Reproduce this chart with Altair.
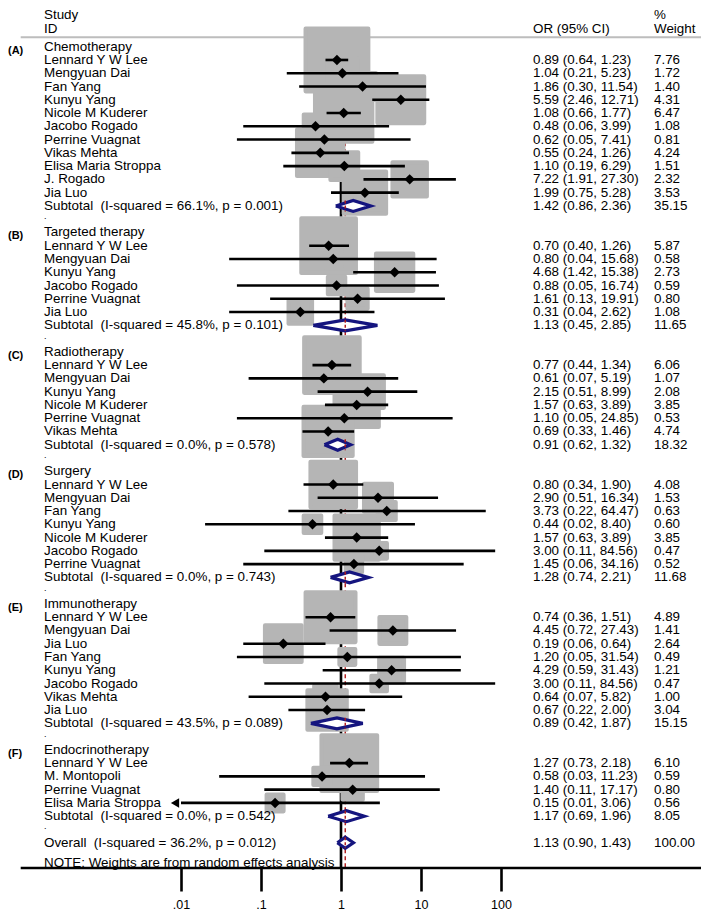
import altair as alt
import pandas as pd

# ---------------- data ----------------
group_names = ["Chemotherapy", "Targeted therapy", "Radiotherapy", "Surgery",
               "Immunotherapy", "Endocrinotherapy"]
group_tags = ["(A)", "(B)", "(C)", "(D)", "(E)", "(F)"]

studies = [
    ["Lennard Y W Lee", "Mengyuan Dai", "Fan Yang", "Kunyu Yang", "Nicole M Kuderer",
     "Jacobo Rogado", "Perrine Vuagnat", "Vikas Mehta", "Elisa Maria Stroppa",
     "J. Rogado", "Jia Luo"],
    ["Lennard Y W Lee", "Mengyuan Dai", "Kunyu Yang", "Jacobo Rogado",
     "Perrine Vuagnat", "Jia Luo"],
    ["Lennard Y W Lee", "Mengyuan Dai", "Kunyu Yang", "Nicole M Kuderer",
     "Perrine Vuagnat", "Vikas Mehta"],
    ["Lennard Y W Lee", "Mengyuan Dai", "Fan Yang", "Kunyu Yang", "Nicole M Kuderer",
     "Jacobo Rogado", "Perrine Vuagnat"],
    ["Lennard Y W Lee", "Mengyuan Dai", "Jia Luo", "Fan Yang", "Kunyu Yang",
     "Jacobo Rogado", "Vikas Mehta", "Jia Luo"],
    ["Lennard Y W Lee", "M. Montopoli", "Perrine Vuagnat", "Elisa Maria Stroppa"],
]
odds_ratio = [
    [0.89, 1.04, 1.86, 5.59, 1.08, 0.48, 0.62, 0.55, 1.10, 7.22, 1.99],
    [0.70, 0.80, 4.68, 0.88, 1.61, 0.31],
    [0.77, 0.61, 2.15, 1.57, 1.10, 0.69],
    [0.80, 2.90, 3.73, 0.44, 1.57, 3.00, 1.45],
    [0.74, 4.45, 0.19, 1.20, 4.29, 3.00, 0.64, 0.67],
    [1.27, 0.58, 1.40, 0.15],
]
ci_low = [
    [0.64, 0.21, 0.30, 2.46, 0.66, 0.06, 0.05, 0.24, 0.19, 1.91, 0.75],
    [0.40, 0.04, 1.42, 0.05, 0.13, 0.04],
    [0.44, 0.07, 0.51, 0.63, 0.05, 0.33],
    [0.34, 0.51, 0.22, 0.02, 0.63, 0.11, 0.06],
    [0.36, 0.72, 0.06, 0.05, 0.59, 0.11, 0.07, 0.22],
    [0.73, 0.03, 0.11, 0.01],
]
ci_high = [
    [1.23, 5.23, 11.54, 12.71, 1.77, 3.99, 7.41, 1.26, 6.29, 27.30, 5.28],
    [1.26, 15.68, 15.38, 16.74, 19.91, 2.62],
    [1.34, 5.19, 8.99, 3.89, 24.85, 1.46],
    [1.90, 16.34, 64.47, 8.40, 3.89, 84.56, 34.16],
    [1.51, 27.43, 0.64, 31.54, 31.43, 84.56, 5.82, 2.00],
    [2.18, 11.23, 17.17, 3.06],
]
weights = [
    [7.76, 1.72, 1.40, 4.31, 6.47, 1.08, 0.81, 4.24, 1.51, 2.32, 3.53],
    [5.87, 0.58, 2.73, 0.59, 0.80, 1.08],
    [6.06, 1.07, 2.08, 3.85, 0.53, 4.74],
    [4.08, 1.53, 0.63, 0.60, 3.85, 0.47, 0.52],
    [4.89, 1.41, 2.64, 0.49, 1.21, 0.47, 1.00, 3.04],
    [6.10, 0.59, 0.80, 0.56],
]
sub_i2 = ["66.1%", "45.8%", "0.0%", "0.0%", "43.5%", "0.0%"]
sub_p = ["0.001", "0.101", "0.578", "0.743", "0.089", "0.542"]
sub_or = [1.42, 1.13, 0.91, 1.28, 0.89, 1.17]
sub_low = [0.86, 0.45, 0.62, 0.74, 0.42, 0.69]
sub_high = [2.36, 2.85, 1.32, 2.21, 1.87, 1.96]
sub_weight = [35.15, 11.65, 18.32, 11.68, 15.15, 8.05]

overall_or = 1.13
overall_low = 0.90
overall_high = 1.43
overall_weight = 100.00
overall_i2 = "36.2%"
overall_p = "0.012"

tick_values = [0.01, 0.1, 1, 10, 100]
tick_labels = [".01", ".1", "1", "10", "100"]
null_value = 1

# ---------------- tables ----------------
def fmt_ci(e, lo, hi):
    return f"{e:.2f} ({lo:.2f}, {hi:.2f})"

text_rows, dot_rows, tag_rows, study_rows, pool_rows = [], [], [], [], []
r = 0
for g in range(len(group_names)):
    text_rows.append(dict(row=r, label=group_names[g], orci="", wt=""))
    tag_rows.append(dict(row=r, tag=group_tags[g]))
    r += 1
    for i, name in enumerate(studies[g]):
        e, lo, hi, w = odds_ratio[g][i], ci_low[g][i], ci_high[g][i], weights[g][i]
        study_rows.append(dict(row=r, est=e, lo=lo, hi=hi, w=w,
                               arrow=lo <= min(tick_values)))
        text_rows.append(dict(row=r, label=name, orci=fmt_ci(e, lo, hi), wt=f"{w:.2f}"))
        r += 1
    text_rows.append(dict(row=r,
                          label=f"Subtotal\u00a0 (I-squared = {sub_i2[g]}, p = {sub_p[g]})",
                          orci=fmt_ci(sub_or[g], sub_low[g], sub_high[g]),
                          wt=f"{sub_weight[g]:.2f}"))
    pool_rows.append(dict(row=r, est=sub_or[g], lo=sub_low[g], hi=sub_high[g]))
    r += 1
    dot_rows.append(dict(row=r, label="."))
    r += 1
text_rows.append(dict(row=r,
                      label=f"Overall\u00a0 (I-squared = {overall_i2}, p = {overall_p})",
                      orci=fmt_ci(overall_or, overall_low, overall_high),
                      wt=f"{overall_weight:.2f}"))
pool_rows.append(dict(row=r, est=overall_or, lo=overall_low, hi=overall_high))

texts = pd.DataFrame(text_rows)
dots_df = pd.DataFrame(dot_rows)
tags = pd.DataFrame(tag_rows)
st = pd.DataFrame(study_rows)

HALF = 0.415  # diamond half height in row units
verts = []
for k, p in enumerate(pool_rows):
    pts = [(p["lo"], p["row"]), (p["est"], p["row"] - HALF), (p["hi"], p["row"]),
           (p["est"], p["row"] + HALF), (p["lo"], p["row"])]
    for j, (xv, yv) in enumerate(pts):
        verts.append(dict(pid=k, vid=j, xv=xv, yv=yv))
verts = pd.DataFrame(verts)
pools = pd.DataFrame(pool_rows)
pools["ov"] = overall_or
pools["top"] = pools["row"] - HALF
pools["bot"] = pools["row"] + HALF

# ---------------- layout ----------------
W, H = 693, 860
ROW0, ROWH = 38.7, 13.267
xscale = alt.Scale(type="log", domain=[10 ** (-333 / 80), 10 ** ((W - 333) / 80)], nice=False)
yscale = alt.Scale(domain=[-ROW0 / ROWH, (H - ROW0) / ROWH], reverse=True, nice=False, zero=False)

label_expr = " : ".join(f"datum.value == {v} ? '{l}'" for v, l in zip(tick_values, tick_labels)) + " : ''"
xaxis = alt.Axis(values=tick_values, labelExpr=label_expr, title=None, domain=False, grid=False,
                 tickSize=23, tickWidth=2.6, tickColor="black", labelFont="Liberation Sans",
                 labelFontSize=12.5, labelColor="black", labelPadding=7)

def X(f):
    return alt.X(f, type="quantitative", scale=xscale, axis=xaxis)

def Y(f):
    return alt.Y(f, type="quantitative", scale=yscale, axis=None)

FONT = "Liberation Sans"
FS = 13.4
RED = "#b01818"
NAVY = "#15157f"
GREY = "#b5b5b5"
one = pd.DataFrame({"v": [null_value], "ov": [overall_or]})

null_line = alt.Chart(one).mark_rule(color="black", strokeWidth=2.6).encode(
    x=X("v"), y=alt.value(29.3), y2=alt.value(H))
red_line = alt.Chart(one).mark_rule(color=RED, strokeWidth=1.4, strokeDash=[4, 3]).encode(
    x=X("ov"), y=alt.value(29.3), y2=alt.value(H))

boxes = alt.Chart(st).mark_square(color=GREY, opacity=1, stroke=GREY,
                                  strokeWidth=4.2, strokeJoin="round").encode(
    x=X("est"), y=Y("row"),
    size=alt.Size("w:Q", scale=alt.Scale(type="linear", domain=[0, 10], range=[0, 5060]), legend=None))
cis = alt.Chart(st).mark_rule(color="black", strokeWidth=2.6).encode(
    x=X("lo"), x2=alt.X2("hi"), y=Y("row"))
points = alt.Chart(st).mark_point(shape="diamond", filled=True, color="black", opacity=1, size=110).encode(
    x=X("est"), y=Y("row"))
arrows = alt.Chart(st).transform_filter("datum.arrow").mark_point(
    shape="triangle-left", filled=True, color="black", opacity=1, size=90, xOffset=-6).encode(
    x=X("lo"), y=Y("row"))

diamonds = alt.Chart(verts).mark_line(fill="white", stroke=NAVY, strokeWidth=3.2,
                                      strokeJoin="miter", opacity=1).encode(
    x=X("xv"), y=Y("yv"), detail="pid:N", order="vid:Q")
red_in = alt.Chart(pools).mark_rule(color=RED, strokeWidth=1.4, strokeDash=[3, 2]).encode(
    x=X("ov"), y=Y("top"), y2=alt.Y2("bot"))

base_txt = dict(font=FONT, fontSize=FS, color="black", baseline="middle", align="left")
labels = alt.Chart(texts).mark_text(**base_txt).encode(
    x=alt.value(36), y=Y("row"), text="label:N")
dots = alt.Chart(dots_df).mark_text(font=FONT, fontSize=9, color="black", baseline="middle",
                                    align="left", dy=-3).encode(
    x=alt.value(36), y=Y("row"), text="label:N")
orci = alt.Chart(texts).mark_text(**base_txt).encode(x=alt.value(525), y=Y("row"), text="orci:N")
wts = alt.Chart(texts).mark_text(**base_txt).encode(x=alt.value(646), y=Y("row"), text="wt:N")
tagtxt = alt.Chart(tags).mark_text(font=FONT, fontSize=11, fontWeight="bold", color="black",
                                   baseline="middle", align="left", dy=4).encode(
    x=alt.value(0), y=Y("row"), text="tag:N")

hdr = pd.DataFrame({"t": ["Study", "ID", "OR (95% CI)", "%", "Weight"],
                    "px": [36, 36, 525, 646, 646], "py": [6.5, 20.5, 20.5, 6.5, 20.5]})
header = alt.Chart(hdr).mark_text(**base_txt).encode(
    x=alt.X("px:Q", scale=None), y=alt.Y("py:Q", scale=None), text="t:N")

note = alt.Chart(one).mark_text(**base_txt).encode(
    x=alt.value(36), y=alt.value(854.6), text=alt.value("NOTE: Weights are from random effects analysis"))

hline = alt.Chart(one).mark_rule(color="#bdbdbd", strokeWidth=2).encode(
    x=alt.value(12.7), x2=alt.value(W), y=alt.value(29.3))
axis_line = alt.Chart(one).mark_rule(color="black", strokeWidth=2.6).encode(
    x=alt.value(12.7), x2=alt.value(W), y=alt.value(H))

chart = alt.layer(
    hline, null_line, red_line, boxes, cis, points, arrows, diamonds, red_in,
    tagtxt, labels, dots, orci, wts, header, note, axis_line
).properties(
    width=W, height=H,
    autosize=alt.AutoSizeParams(type="none"),
    padding={"left": 0, "top": 0, "right": 0, "bottom": 44},
).configure_view(stroke=None)

chart.save("out.html", embed_options={"renderer": "svg", "actions": False})
